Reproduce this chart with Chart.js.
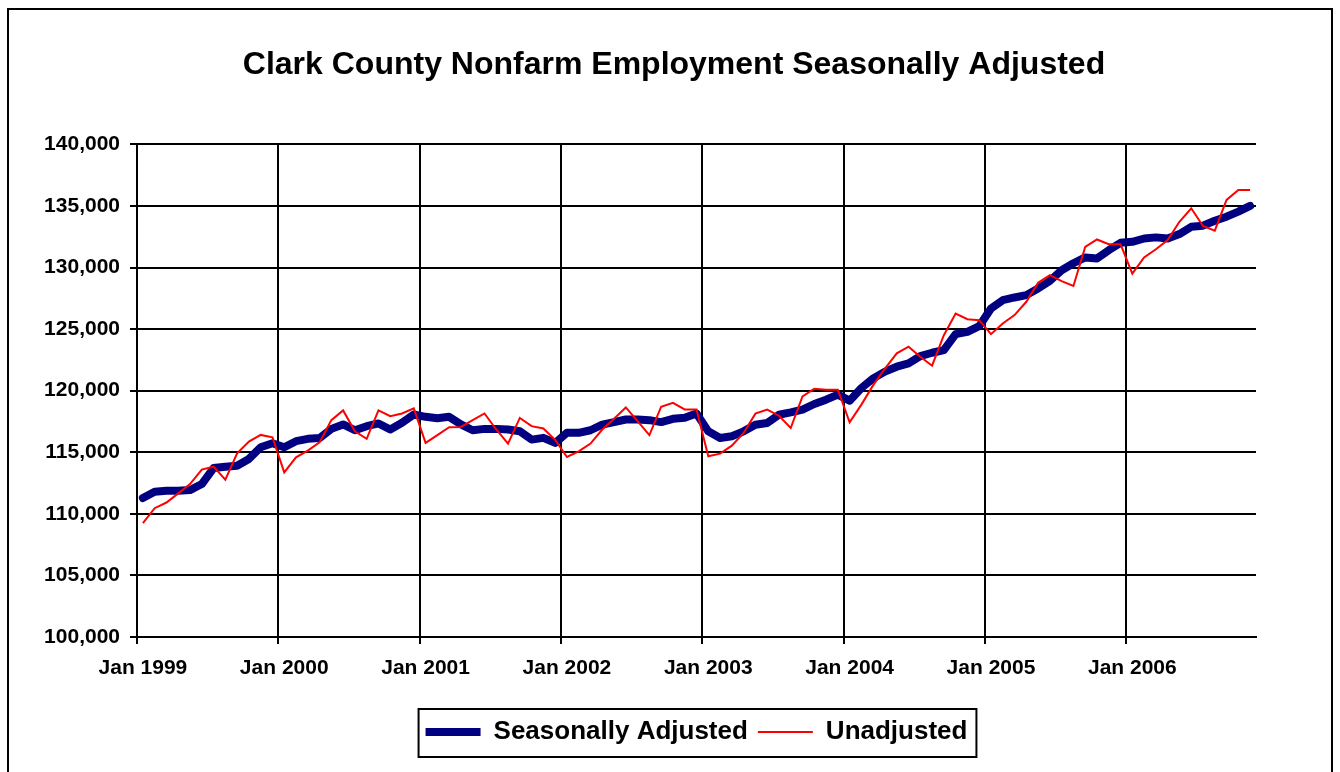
<!DOCTYPE html>
<html>
<head>
<meta charset="UTF-8">
<title>Clark County Nonfarm Employment</title>
<script src="https://cdn.jsdelivr.net/npm/chart.js@4.4.0/dist/chart.umd.min.js"></script>
<style>
html,body{margin:0;padding:0;background:#fff;}
#wrap{position:relative;width:1340px;height:772px;overflow:hidden;}
#frame{position:absolute;left:7px;top:8px;width:1322px;height:800px;border:2px solid #000;}
#c{position:absolute;left:0;top:0;}
</style>
</head>
<body>
<div id="wrap"><div id="frame"></div><canvas id="c" width="1340" height="772"></canvas></div>
<script>
// ===== DATA =====
const TITLE = 'Clark County Nonfarm Employment Seasonally Adjusted';
const MONTHS = ['Jan','Feb','Mar','Apr','May','Jun','Jul','Aug','Sep','Oct','Nov','Dec'];
const YEARS = [1999,2000,2001,2002,2003,2004,2005,2006];
const N_MONTHS = 95; // Jan 1999 .. Nov 2006

const seasAdj = [
  111280,111790,111880,111880,111930,112420,113720,113830,113910,114460,115410,115730, // 1999
  115410,115900,116090,116150,116900,117260,116790,117120,117340,116850,117390,118070, // 2000
  117880,117770,117880,117260,116790,116900,116900,116850,116710,116030,116170,115760, // 2001
  116580,116580,116790,117250,117450,117660,117660,117610,117450,117720,117800,118150, // 2002
  116700,116160,116300,116700,117240,117380,118050,118240,118460,118920,119270,119680, // 2003
  119190,120220,121000,121550,121950,122220,122810,123080,123300,124590,124780,125240, // 2004
  126680,127350,127570,127760,128300,128920,129780,130350,130820,130730,131410,132010, // 2005
  132090,132360,132450,132360,132720,133310,133400,133800,134130,134540,135000         // 2006
];
const unadj = [
  109240,110460,110920,111660,112420,113590,113830,112770,114920,115870,116410,116220, // 1999
  113370,114590,115140,115800,117610,118400,116710,116090,118400,117930,118150,118560, // 2000
  115760,116390,117040,117060,117610,118150,116850,115700,117790,117120,116930,116010, // 2001
  114620,115080,115710,116850,117720,118640,117530,116390,118700,119020,118480,118480, // 2002
  114680,114890,115540,116570,118140,118460,117970,116970,119540,120160,120080,120080, // 2003
  117430,118870,120450,121800,123030,123570,122760,122030,124510,126270,125810,125730, // 2004
  124590,125460,126140,127220,128760,129380,128900,128500,131680,132280,131900,131900, // 2005
  129510,130820,131490,132230,133720,134810,133370,132990,135490,136300,136300         // 2006
];

const Y_MIN = 100000, Y_MAX = 140000, Y_STEP = 5000;

const labels = [];
for (let i = 0; i < N_MONTHS; i++) {
  labels.push(MONTHS[i % 12] + ' ' + YEARS[Math.floor(i / 12)]);
}

// ===== STYLE =====
const FONT = "'Liberation Sans', Arial, Helvetica, sans-serif";

function xGridColor(c){
  if (c.index === N_MONTHS) return '#808080';
  return c.index % 12 === 0 ? '#000' : 'rgba(0,0,0,0)';
}

// legend centred under the plot, title position, and the box around the legend
const framePlugin = {
  id: 'framePlugin',
  afterLayout(chart){
    const a = chart.chartArea;
    const lg = chart.legend;
    let d = (a.left + a.right) / 2 - (lg.left + lg.right) / 2;
    lg.left += d; lg.right += d;
    const tt = chart.titleBlock;
    if (tt) {
      d = 674 - (tt.left + tt.right) / 2;
      tt.left += d; tt.right += d;
    }
  },
  afterDraw(chart){
    const hb = chart.legend.legendHitBoxes;
    if (!hb || !hb.length) return;
    let l = Infinity, r = -Infinity, t = hb[0].top;
    hb.forEach(h => { l = Math.min(l, h.left); r = Math.max(r, h.left + h.width); });
    const ctx = chart.ctx;
    ctx.save();
    ctx.strokeStyle = '#000';
    ctx.lineWidth = 2;
    ctx.strokeRect(l - 7, t - 10, (r + 9) - (l - 7), 48);
    ctx.restore();
  }
};

const ctx = document.getElementById('c').getContext('2d');
new Chart(ctx, {
  type: 'line',
  data: {
    labels: labels,
    datasets: [
      {label:'Seasonally Adjusted', data:seasAdj, borderColor:'#000080', backgroundColor:'#000080',
       borderWidth:8, pointRadius:0, borderCapStyle:'round', borderJoinStyle:'round', pointStyle:'line', order:1},
      {label:'Unadjusted', data:unadj, borderColor:'#ff0000', backgroundColor:'#ff0000',
       borderWidth:2, pointRadius:0, pointStyle:'line', order:0}
    ]
  },
  options: {
    responsive:false, animation:false, devicePixelRatio:1,
    layout:{padding:{left:0, right:84, top:0, bottom:17}},
    plugins:{
      title:{display:true, text:TITLE, color:'#000',
        font:{family:FONT, size:32, weight:'bold', lineHeight:1.2}, padding:{top:45.5, bottom:60.5}},
      legend:{position:'bottom',
        labels:{usePointStyle:true, pointStyleWidth:55, color:'#000', padding:10,
          font:{family:FONT, size:26, weight:'bold'},
          sort:(a,b)=>a.datasetIndex-b.datasetIndex}},
      tooltip:{enabled:false}
    },
    scales:{
      x:{
        offset:true,
        grid:{offset:true, color:xGridColor, tickColor:xGridColor, lineWidth:2, tickLength:7},
        border:{color:'#000', width:2},
        ticks:{autoSkip:false, maxRotation:0, minRotation:0, padding:12, color:'#000',
          font:{family:FONT, size:21, weight:'bold'},
          callback:(v,i)=> i % 12 === 0 ? labels[i] : ''},
        afterFit:s=>{ s.height = 72; }
      },
      y:{
        min:Y_MIN, max:Y_MAX,
        grid:{color:'#000', lineWidth:2, tickLength:7},
        border:{color:'#000', width:2},
        ticks:{stepSize:Y_STEP, padding:10, color:'#000',
          font:{family:FONT, size:21, weight:'bold'},
          callback:v=>v.toLocaleString('en-US')},
        afterFit:s=>{ s.width = 137; }
      }
    }
  },
  plugins:[framePlugin]
});
</script>
</body>
</html>
